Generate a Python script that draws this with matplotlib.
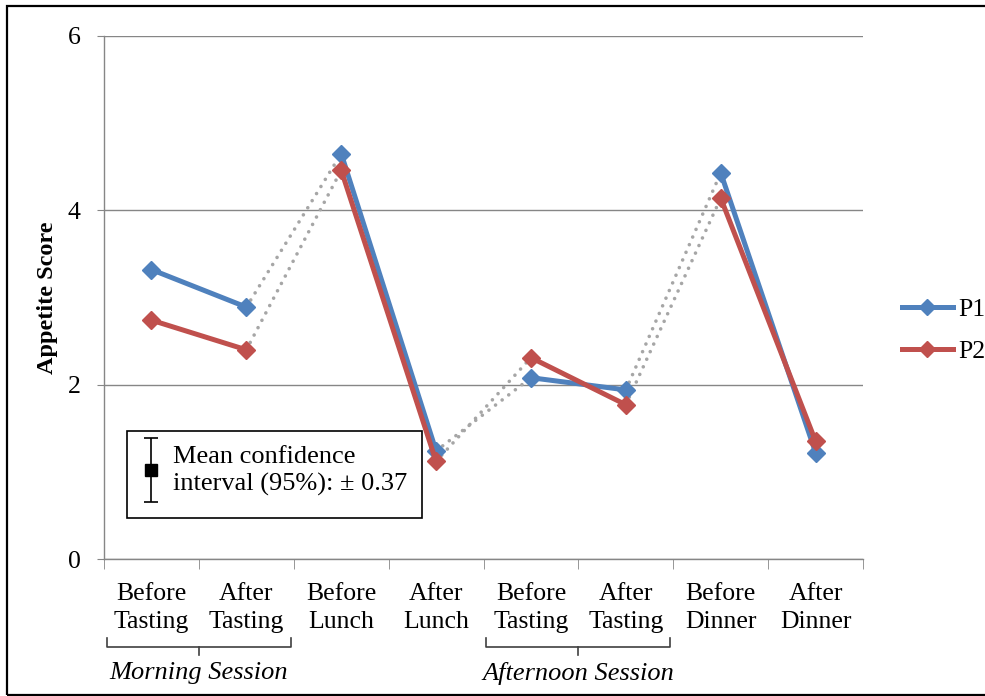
"""
Appetite scores across the day, P1 vs P2, with session braces.
"""

import matplotlib
matplotlib.use("Agg")
import matplotlib.pyplot as plt
from matplotlib.patches import Rectangle

plt.rcParams["font.family"] = ["Liberation Serif", "DejaVu Serif"]

# Data
categories = [
    "Before\nTasting", "After\nTasting", "Before\nLunch", "After\nLunch",
    "Before\nTasting", "After\nTasting", "Before\nDinner", "After\nDinner",
]
p1 = [3.32, 2.89, 4.65, 1.24, 2.08, 1.94, 4.43, 1.22]
p2 = [2.74, 2.40, 4.46, 1.12, 2.31, 1.77, 4.14, 1.35]
series_names = ["P1", "P2"]
y_ticks = [0, 2, 4, 6]

# (first index, last index, label) for the two session groups
sessions = [(0, 1, "Morning Session"), (4, 5, "Afternoon Session")]

ci_halfwidth = 0.37
ci_demo_y = 1.02

BLUE = "#4F81BD"
RED = "#C0504D"
GREY = "#868686"
DOT = "#A6A6A6"

fig = plt.figure(figsize=(9.85, 6.96), dpi=100)
ax = fig.add_axes([0.1056, 0.1968, 0.7706, 0.7515])

x = list(range(len(categories)))

# Solid segments inside each pair, dotted grey links between pairs
solid_pairs = [(0, 1), (2, 3), (4, 5), (6, 7)]
dotted_pairs = [(1, 2), (3, 4), (5, 6)]

for values in (p1, p2):
    for a, b in dotted_pairs:
        ax.plot(x[a:b + 1], values[a:b + 1], color=DOT, lw=2.6,
                linestyle=(0, (0.01, 2.3)), dash_capstyle="round", zorder=2)

for values, color, z in ((p1, BLUE, 3), (p2, RED, 4)):
    for a, b in solid_pairs:
        ax.plot(x[a:b + 1], values[a:b + 1], color=color, lw=3.6,
                marker="D", markersize=9, zorder=z)

# Legend handles
handles = [
    plt.Line2D([], [], color=BLUE, lw=3.6, marker="D", markersize=8),
    plt.Line2D([], [], color=RED, lw=3.6, marker="D", markersize=8),
]
fig.legend(handles, series_names, loc="center left",
           bbox_to_anchor=(0.905, 0.525), frameon=False, fontsize=18.5,
           handlelength=2.0, handletextpad=0.2, labelspacing=0.75,
           borderaxespad=0)

# Axes styling
ax.set_xlim(-0.5, len(categories) - 0.5)
ax.set_ylim(0, 6)
ax.set_yticks(y_ticks)
ax.yaxis.grid(True, color=GREY, lw=1)
ax.set_axisbelow(True)
for side in ("top", "right"):
    ax.spines[side].set_visible(False)
for side in ("left", "bottom"):
    ax.spines[side].set_color(GREY)
    ax.spines[side].set_linewidth(1)

ax.tick_params(axis="y", direction="out", length=5, color=GREY,
               labelsize=18.5, pad=12)
ax.set_xticks(x)
ax.set_xticklabels(categories, fontsize=18.5, linespacing=1.4)
ax.tick_params(axis="x", which="major", length=0, pad=17)
ax.set_xticks([i - 0.5 for i in range(len(categories) + 1)], minor=True)
ax.tick_params(axis="x", which="minor", direction="out", length=7, color=GREY)

ax.set_ylabel("Appetite Score", fontsize=17.5, fontweight="bold", labelpad=7)

# Session braces below the tick labels
trans = ax.get_xaxis_transform()
top, bottom, tip, label_y = -0.151, -0.168, -0.183, -0.218
for first, last, label in sessions:
    x0, x1 = first - 0.47, last + 0.47
    xc = (first + last) / 2
    ax.plot([x0, x0, x1, x1], [top, bottom, bottom, top], color="#404040",
            lw=1.2, transform=trans, clip_on=False)
    ax.plot([xc, xc], [bottom, tip], color="#404040", lw=1.2,
            transform=trans, clip_on=False)
    ax.text(xc, label_y, label, transform=trans, ha="center", va="center",
            fontsize=19, style="italic")

# Confidence interval key box
ax.add_patch(Rectangle((0.0303, 0.0784), 0.389, 0.1664, transform=ax.transAxes,
                       facecolor="white", edgecolor="black", lw=1.2, zorder=5))
ax.errorbar([x[0]], [ci_demo_y], yerr=[ci_halfwidth], fmt="s", color="black",
            markersize=8, capsize=5, elinewidth=1.2, capthick=1.2, zorder=6)
ax.text(0.091, 0.168, "Mean confidence\ninterval (95%): \u00b1 0.37",
        transform=ax.transAxes, ha="left", va="center", fontsize=19,
        linespacing=1.3, zorder=6)

# Outer frame (right edge runs off the image)
fig.add_artist(Rectangle((7 / 985, 1 / 696), 1.0, 689 / 696,
                         transform=fig.transFigure, fill=False,
                         edgecolor="black", lw=1.6))

fig.savefig("out.png", dpi=100)
